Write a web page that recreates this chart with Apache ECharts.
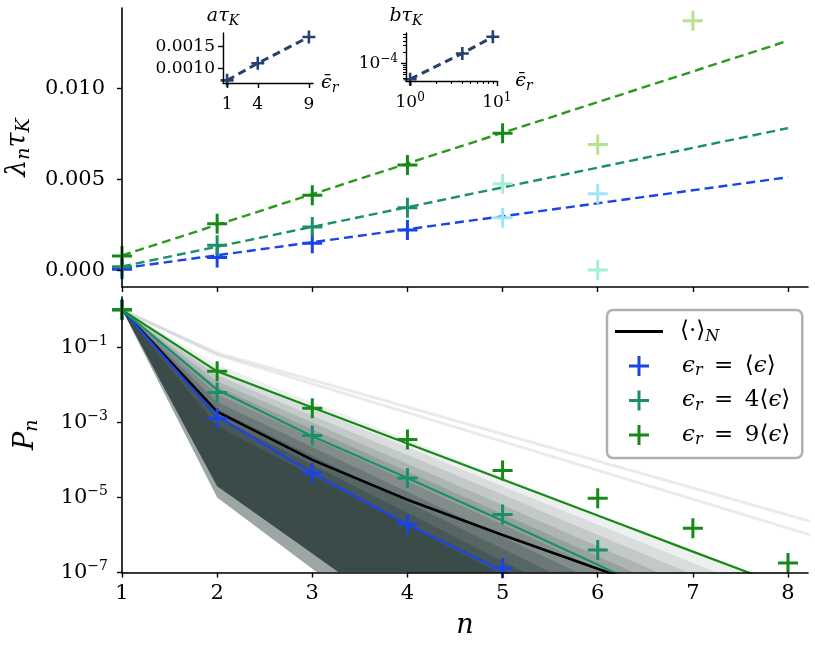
<!DOCTYPE html>
<html>
<head>
<meta charset="utf-8">
<script src="https://cdn.jsdelivr.net/npm/echarts@6/dist/echarts.min.js"></script>
<style>
  html, body { margin: 0; padding: 0; background: #fff; }
  #main { width: 815px; height: 645px; }
</style>
</head>
<body>
<div id="main"></div>
<script>
// ---- data ----
// top panel: decay rates lambda_n * tau_K
var lamBlueN = [1, 2, 3, 4];
var lamBlue = [0.00005, 0.00069, 0.00147, 0.0022];
var lamBlueFaintN = [5, 6];
var lamBlueFaint = [0.00288, 0.0042];
var lamTealN = [1, 2, 3, 4];
var lamTeal = [0.00018, 0.00137, 0.00237, 0.00343];
var lamTealFaintN = [5, 6];
var lamTealFaint = [0.00474, 0.0];
var lamGreenN = [1, 2, 3, 4, 5];
var lamGreen = [0.00077, 0.00255, 0.00411, 0.00577, 0.00752];
var lamGreenFaintN = [6, 7];
var lamGreenFaint = [0.0069, 0.0137];
// dashed linear fits, value at n = 1 and n = 8
var fitN = [1, 8];
var fitBlue = [0.0001, 0.0051];
var fitTeal = [0.0002, 0.0078];
var fitGreen = [0.0008, 0.0126];

// bottom panel: P_n
var nAll = [1, 2, 3, 4, 5, 6, 7, 8];
var meanP = [1, 1.95e-3, 1.0e-4, 8.7e-6, 1.0e-6, 1.26e-7, 1.6e-8];
var theoryBlue = [1, 1.45e-3, 4.5e-5, 1.9e-6, 1.1e-7, 5e-9];
var theoryTeal = [1, 7.4e-3, 4.3e-4, 3.3e-5, 2.4e-6, 1.6e-7, 1e-8];
var theoryGreen = [1, 2.3e-2, 2.5e-3, 2.75e-4, 3.0e-5, 3.3e-6, 3.6e-7, 4e-8];
var simBlue = [1, 1.3e-3, 4.5e-5, 1.95e-6, 1.3e-7];
var simTeal = [1, 6.3e-3, 4.5e-4, 3.3e-5, 3.5e-6, 4.0e-7];
var simGreen = [1, 2.3e-2, 2.4e-3, 3.5e-4, 5.2e-5, 9.5e-6, 1.5e-6, 1.8e-7];

// ensemble of samples: envelopes of the grey fan (outer -> inner)
var fanEnvelopes = [
  [1, 3.5e-2, 3.5e-3, 3.5e-4, 3.5e-5, 3.5e-6, 3.5e-7, 3.5e-8],
  [1, 2.5e-2, 2.3e-3, 2.2e-4, 2.0e-5, 1.9e-6, 1.8e-7, 1.7e-8],
  [1, 1.8e-2, 1.5e-3, 1.35e-4, 1.2e-5, 1.0e-6, 8.9e-8, 7.8e-9],
  [1, 1.26e-2, 1.0e-3, 7.9e-5, 6.3e-6, 5.0e-7, 4.0e-8, 3.2e-9],
  [1, 8.9e-3, 6.6e-4, 4.9e-5, 3.6e-6, 2.7e-7, 2.0e-8],
  [1, 5.6e-3, 3.9e-4, 2.7e-5, 1.9e-6, 1.3e-7, 8.9e-9],
  [1, 3.5e-3, 2.2e-4, 1.4e-5, 8.9e-7, 5.6e-8],
  [1, 2.2e-3, 1.3e-4, 7.4e-6, 4.3e-7, 2.5e-8],
  [1, 1.4e-3, 7.4e-5, 3.9e-6, 2.0e-7, 1.1e-8],
  [1, 7.9e-4, 3.8e-5, 1.8e-6, 8.7e-8]
];
var fanAlpha = [0.08, 0.1, 0.12, 0.14, 0.17, 0.2, 0.25, 0.3, 0.35, 0.45];
// lower edge of the fan (nothing below it)
var fanLowerEdge = [1, 1.0e-5, 1.26e-7, 1.6e-9];
var fanLowerFringe = [1, 2.0e-5, 3.2e-7, 5e-9];
// isolated slow samples above the fan, at n = 1, 2, 9
var strayN = [1, 2, 9];
var strayLines = [
  [1, 7.1e-2, 6.5e-7],
  [1, 6.3e-2, 2.6e-7]
];

// insets
var epsBar = [1, 4, 9];
var aTau = [0.00073, 0.00112, 0.00172];
var bTau = [3.8e-5, 1.85e-4, 5.15e-4];

// ticks
var nTicks = [1, 2, 3, 4, 5, 6, 7, 8];
var lamTicks = [0, 0.005, 0.010];
var pTicks = [1e-1, 1e-3, 1e-5, 1e-7];
var aTicksX = [1, 4, 9];
var aTicksY = [0.0010, 0.0015];
var bTicksX = [1, 10];
var bMinorX = [2, 3, 4, 5, 6, 7, 8, 9];
var bTicksY = [1e-4];
var bMinorY = [4e-5, 5e-5, 6e-5, 7e-5, 8e-5, 9e-5, 2e-4, 3e-4, 4e-4, 5e-4, 6e-4];

// ---- styling ----
var F = "'DejaVu Serif', 'Liberation Serif', serif";
var FM = "'DejaVu Serif', 'DejaVu Sans', 'Liberation Serif', serif";  // has the angle brackets
var BLUE = '#1a44e8', TEAL = '#1b9068', GREEN = '#168a16';
var BLUE_L = '#9ee6f7', TEAL_L = '#a6eedb', GREEN_L = '#b4e38c';
var NAVY = '#27406e';
var FAN = '#2c3d3b';
var PLUS = 'path://M8.5,0h3v8.5h8.5v3h-8.5v8.5h-3v-8.5h-8.5v-3h8.5z';
var PLUS_S = 'path://M8,0h4v8h8v4h-8v8h-4v-8h-8v-4h8z';

function pairs(xs, ys) {
  return ys.map(function (y, i) { return [xs[i], y]; });
}
function sup(v) {
  var e = Math.round(Math.log(v) / Math.LN10);
  return '{b|10}{sup|' + String(e).replace('-', '\u2212') + '}';
}

var richBig = {
  i: { fontFamily: F, fontStyle: 'italic', fontSize: 27, color: '#000' },
  sub: { fontFamily: F, fontStyle: 'italic', fontSize: 19, color: '#000', padding: [13, 0, 0, 0] }
};
var richSmall = {
  i: { fontFamily: F, fontStyle: 'italic', fontSize: 19, color: '#000' },
  sub: { fontFamily: F, fontStyle: 'italic', fontSize: 14, color: '#000', padding: [10, 0, 0, 0] }
};
var richSup = {
  b: { fontFamily: F, fontSize: 21, color: '#000' },
  sup: { fontFamily: F, fontSize: 14, color: '#000', padding: [0, 0, 12, 0] }
};
var richSupSmall = {
  b: { fontFamily: F, fontSize: 17, color: '#000' },
  sup: { fontFamily: F, fontSize: 12, color: '#000', padding: [0, 0, 10, 0] }
};

function axisBase(extra) {
  var a = {
    type: 'value',
    z: 10,
    splitLine: { show: false },
    axisLine: { show: true, onZero: false, lineStyle: { color: '#000', width: 1.6 } },
    axisTick: { show: true, length: 5, lineStyle: { color: '#000', width: 1.4 } },
    axisLabel: { fontFamily: F, fontSize: 21, color: '#000' }
  };
  for (var k in extra) {
    if (typeof extra[k] === 'object' && a[k] && !Array.isArray(extra[k])) {
      for (var j in extra[k]) a[k][j] = extra[k][j];
    } else {
      a[k] = extra[k];
    }
  }
  return a;
}

var legendText = {
  mean: '{h|\u2009}{t|\u27e8\u00b7\u27e9}{s|N}',
  eps1: '{g|\u2009}{ti|\u03f5}{s|r}{t|\u2002=\u2002\u27e8}{ti|\u03f5}{t|\u27e9}',
  eps4: '{g|\u2009}{ti|\u03f5}{s|r}{t|\u2002=\u20024\u27e8}{ti|\u03f5}{t|\u27e9}',
  eps9: '{g|\u2009}{ti|\u03f5}{s|r}{t|\u2002=\u20029\u27e8}{ti|\u03f5}{t|\u27e9}'
};

var series = [];

// grey fan
fanEnvelopes.forEach(function (env, k) {
  series.push({
    type: 'line', xAxisIndex: 1, yAxisIndex: 1, silent: true, z: 1,
    data: pairs(nAll, env), symbol: 'none',
    lineStyle: { opacity: 0 },
    areaStyle: { color: FAN, opacity: fanAlpha[k], origin: 'start' }
  });
});
series.push({
  type: 'line', xAxisIndex: 1, yAxisIndex: 1, silent: true, z: 1,
  data: pairs(nAll, fanLowerFringe), symbol: 'none',
  lineStyle: { opacity: 0 },
  areaStyle: { color: '#ffffff', opacity: 0.5, origin: 'start' }
});
series.push({
  type: 'line', xAxisIndex: 1, yAxisIndex: 1, silent: true, z: 1,
  data: pairs(nAll, fanLowerEdge), symbol: 'none',
  lineStyle: { opacity: 0 },
  areaStyle: { color: '#ffffff', opacity: 1, origin: 'start' }
});
strayLines.forEach(function (l) {
  series.push({
    type: 'line', xAxisIndex: 1, yAxisIndex: 1, silent: true, z: 1,
    data: pairs(strayN, l), symbol: 'none',
    lineStyle: { color: FAN, opacity: 0.1, width: 3 }
  });
});

// bottom panel lines
series.push({
  name: 'mean', type: 'line', xAxisIndex: 1, yAxisIndex: 1, z: 3,
  data: pairs(nAll, meanP), symbol: 'none',
  lineStyle: { color: '#000', width: 2.5 }, itemStyle: { color: '#000' }
});
[[theoryBlue, BLUE], [theoryTeal, TEAL], [theoryGreen, GREEN]].forEach(function (t) {
  series.push({
    type: 'line', xAxisIndex: 1, yAxisIndex: 1, z: 4,
    data: pairs(nAll, t[0]), symbol: 'none',
    lineStyle: { color: t[1], width: 2.2 }
  });
});
[['eps1', simBlue, BLUE], ['eps4', simTeal, TEAL], ['eps9', simGreen, GREEN]].forEach(function (s) {
  series.push({
    name: s[0], type: 'scatter', xAxisIndex: 1, yAxisIndex: 1, z: 5,
    data: pairs(nAll, s[1]), symbol: PLUS, symbolSize: 20,
    itemStyle: { color: s[2], opacity: 1 }
  });
});

// top panel
[[fitBlue, BLUE], [fitTeal, TEAL], [fitGreen, '#2a9a1a']].forEach(function (f) {
  series.push({
    type: 'line', xAxisIndex: 0, yAxisIndex: 0, z: 3,
    data: pairs(fitN, f[0]), symbol: 'none',
    lineStyle: { color: f[1], width: 2.4, type: [9, 5] }
  });
});
[
  [lamBlueN, lamBlue, BLUE], [lamBlueFaintN, lamBlueFaint, BLUE_L],
  [lamTealN, lamTeal, TEAL], [lamTealFaintN, lamTealFaint, TEAL_L],
  [lamGreenN, lamGreen, GREEN], [lamGreenFaintN, lamGreenFaint, GREEN_L]
].forEach(function (s) {
  series.push({
    type: 'scatter', xAxisIndex: 0, yAxisIndex: 0, z: 5,
    data: pairs(s[0], s[1]), symbol: PLUS, symbolSize: 20,
    itemStyle: { color: s[2], opacity: 1 }
  });
});

// insets
series.push({
  type: 'line', xAxisIndex: 2, yAxisIndex: 2, z: 5,
  data: pairs(epsBar, aTau), symbol: PLUS_S, symbolSize: 13, showSymbol: true,
  lineStyle: { color: NAVY, width: 3, type: [8, 5] }, itemStyle: { color: NAVY, opacity: 1 }
});
series.push({
  type: 'line', xAxisIndex: 3, yAxisIndex: 3, z: 5,
  data: pairs(epsBar, bTau), symbol: PLUS_S, symbolSize: 13, showSymbol: true,
  lineStyle: { color: NAVY, width: 3, type: [8, 5] }, itemStyle: { color: NAVY, opacity: 1 }
});

var myChart = echarts.init(document.getElementById('main'));
var option = {
  animation: false,
  backgroundColor: '#ffffff',
  grid: [
    { left: 122, top: 8, width: 686, height: 279, outerBoundsMode: 'none' },
    { left: 122, top: 297, width: 686, height: 275.5, outerBoundsMode: 'none' },
    { left: 223, top: 33, width: 90, height: 50, outerBoundsMode: 'none' },
    { left: 406, top: 33, width: 91, height: 48, outerBoundsMode: 'none' },
    // same box as inset b, only carries its minor ticks
    { left: 406, top: 33, width: 91, height: 48, outerBoundsMode: 'none' }
  ],
  xAxis: [
    axisBase({ gridIndex: 0, min: 1, max: 8.21,
      axisTick: { customValues: nTicks }, axisLabel: { show: false } }),
    axisBase({ gridIndex: 1, min: 1, max: 8.21,
      axisTick: { customValues: nTicks },
      axisLabel: { customValues: nTicks, margin: 11 },
      name: '{i|n}', nameLocation: 'middle', nameGap: 40,
      nameTextStyle: { rich: richBig } }),
    axisBase({ gridIndex: 2, min: 0.6, max: 9.4,
      axisLine: { lineStyle: { color: '#000', width: 1.4 } },
      axisTick: { customValues: aTicksX, length: 5 },
      axisLabel: { customValues: aTicksX, fontSize: 17, margin: 13 },
      name: '{i|\u03f5\u0304}{sub|r}', nameLocation: 'end', nameGap: 8,
      nameTextStyle: { rich: richSmall } }),
    axisBase({ gridIndex: 3, type: 'log', min: 0.896, max: 10.05,
      axisLine: { lineStyle: { color: '#000', width: 1.4 } },
      axisTick: { customValues: bTicksX, length: 5 },
      axisLabel: { customValues: bTicksX, margin: 11, formatter: sup, rich: richSupSmall },
      name: '{i|\u03f5\u0304}{sub|r}', nameLocation: 'end', nameGap: 10,
      nameTextStyle: { rich: richSmall } }),
    axisBase({ gridIndex: 4, type: 'log', min: 0.896, max: 10.05, position: 'bottom',
      axisLine: { show: false },
      axisTick: { customValues: bMinorX, length: 3, lineStyle: { color: '#000', width: 1.1 } },
      axisLabel: { show: false } })
  ],
  yAxis: [
    axisBase({ gridIndex: 0, min: -0.00093, max: 0.0144,
      axisTick: { customValues: lamTicks },
      axisLabel: { customValues: lamTicks, margin: 17,
        formatter: function (v) { return v.toFixed(3); } },
      name: '{i|\u03bb}{sub|n}{i|\u03c4}{sub|K}', nameLocation: 'middle', nameGap: 80,
      nameRotate: 90, nameTextStyle: { rich: richBig } }),
    axisBase({ gridIndex: 1, type: 'log', min: 1e-7, max: 2.2,
      axisTick: { customValues: pTicks },
      axisLabel: { customValues: pTicks, margin: 14, formatter: sup, rich: richSup },
      name: '{i|P}{sub|n}', nameLocation: 'middle', nameGap: 80,
      nameRotate: 90, nameTextStyle: { rich: richBig } }),
    axisBase({ gridIndex: 2, min: 0.00067, max: 0.00181,
      axisLine: { lineStyle: { color: '#000', width: 1.4 } },
      axisTick: { customValues: aTicksY, length: 5 },
      axisLabel: { customValues: aTicksY, fontSize: 17, margin: 8,
        formatter: function (v) { return v.toFixed(4); } },
      name: '{i|a\u03c4}{sub|K}', nameLocation: 'end', nameGap: 5,
      nameTextStyle: { rich: richSmall } }),
    axisBase({ gridIndex: 3, type: 'log', min: 3.4e-5, max: 6.5e-4,
      axisLine: { lineStyle: { color: '#000', width: 1.4 } },
      axisTick: { customValues: bTicksY, length: 5 },
      axisLabel: { customValues: bTicksY, margin: 8, formatter: sup, rich: richSupSmall },
      name: '{i|b\u03c4}{sub|K}', nameLocation: 'end', nameGap: 5,
      nameTextStyle: { rich: richSmall } }),
    axisBase({ gridIndex: 4, type: 'log', min: 3.4e-5, max: 6.5e-4, position: 'left',
      axisLine: { show: false },
      axisTick: { customValues: bMinorY, length: 3, lineStyle: { color: '#000', width: 1.1 } },
      axisLabel: { show: false } })
  ],
  legend: {
    data: [
      { name: 'mean', icon: 'path://M0,0h48v3h-48z' },
      'eps1', 'eps4', 'eps9'
    ],
    orient: 'vertical', left: 607, top: 310,
    itemWidth: 48, itemHeight: 20, itemGap: 10,
    padding: [10, 12, 10, 8],
    borderColor: '#b0b0b0', borderWidth: 2.5, borderRadius: 6,
    backgroundColor: '#ffffff',
    formatter: function (name) { return legendText[name]; },
    textStyle: {
      fontFamily: FM, fontSize: 23, color: '#000',
      rich: {
        g: { width: 14 },
        h: { width: 12 },
        t: { fontFamily: FM, fontSize: 23, color: '#000' },
        ti: { fontFamily: FM, fontSize: 23, fontStyle: 'italic', color: '#000' },
        s: { fontFamily: FM, fontSize: 16, fontStyle: 'italic', color: '#000', padding: [10, 0, 0, 0] }
      }
    }
  },
  series: series
};

myChart.setOption(option);
</script>
</body>
</html>
